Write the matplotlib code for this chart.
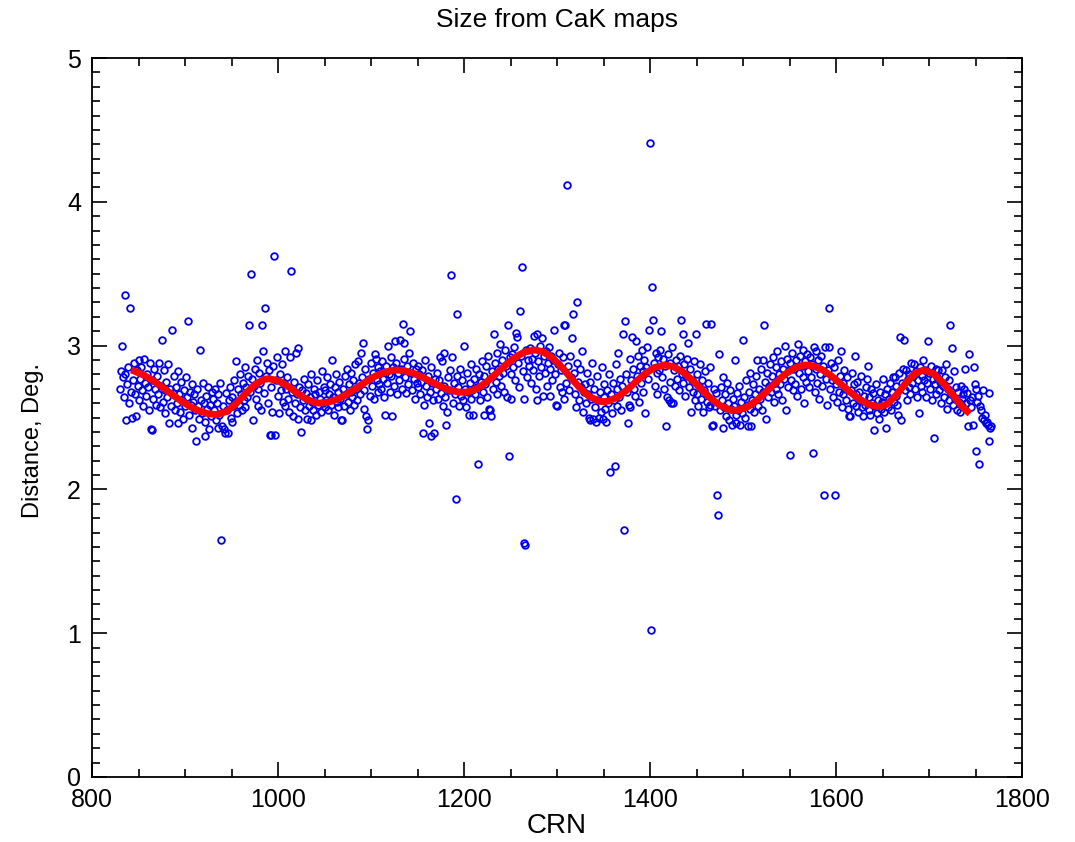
import numpy as np
import matplotlib
matplotlib.use("Agg")
import matplotlib.pyplot as plt
from matplotlib.ticker import MultipleLocator

plt.rcParams["font.family"] = ["Liberation Sans", "DejaVu Sans"]

# Distance values, one per Carrington rotation starting at CRN 830
rows = [
    [2.70, 2.82, 3.00, 2.78, 2.64, 3.35, 2.80, 2.48, 2.73, 2.85, 2.60, 3.26, 2.68, 2.50, 2.76, 2.88, 2.66, 2.51, 2.83, 2.72],  # 830
    [2.90, 2.62, 2.77, 2.85, 2.69, 2.58, 2.91, 2.74, 2.65, 2.80, 2.71, 2.55, 2.88, 2.42, 2.41, 2.76, 2.63, 2.84, 2.70, 2.59],  # 850
    [2.79, 2.66, 2.88, 2.57, 2.72, 3.04, 2.61, 2.83, 2.69, 2.53, 2.75, 2.64, 2.87, 2.46, 2.70, 2.58, 3.11, 2.67, 2.79, 2.55],  # 870
    [2.71, 2.60, 2.82, 2.46, 2.66, 2.54, 2.75, 2.62, 2.49, 2.69, 2.58, 2.78, 2.64, 3.17, 2.52, 2.68, 2.59, 2.73, 2.43, 2.61],  # 890
    [2.66, 2.55, 2.34, 2.70, 2.58, 2.49, 2.97, 2.62, 2.53, 2.74, 2.60, 2.47, 2.37, 2.65, 2.56, 2.71, 2.42, 2.59, 2.51, 2.68],  # 910
    [2.63, 2.55, 2.70, 2.48, 2.60, 2.43, 2.66, 2.52, 2.74, 1.65, 2.44, 2.58, 2.42, 2.39, 2.67, 2.55, 2.39, 2.62, 2.71, 2.50],  # 930
    [2.64, 2.47, 2.58, 2.76, 2.61, 2.89, 2.53, 2.70, 2.59, 2.80, 2.66, 2.55, 2.74, 2.62, 2.85, 2.57, 2.71, 2.64, 2.79, 3.14],  # 950
    [2.68, 3.50, 2.77, 2.48, 2.72, 2.84, 2.63, 2.90, 2.70, 2.58, 2.81, 2.74, 2.55, 3.14, 2.96, 2.67, 3.26, 2.79, 2.88, 2.60],  # 970
    [2.83, 2.38, 2.71, 2.38, 2.54, 2.86, 3.62, 2.38, 2.76, 2.92, 2.65, 2.53, 2.80, 2.69, 2.87, 2.61, 2.74, 2.96, 2.58, 2.70],  # 990
    [2.78, 2.63, 2.54, 2.92, 3.52, 2.68, 2.51, 2.75, 2.60, 2.95, 2.66, 2.49, 2.98, 2.71, 2.57, 2.40, 2.69, 2.62, 2.77, 2.55],  # 1010
    [2.67, 2.49, 2.73, 2.58, 2.64, 2.48, 2.80, 2.61, 2.55, 2.70, 2.66, 2.52, 2.76, 2.59, 2.68, 2.63, 2.54, 2.82, 2.60, 2.71],  # 1030
    [2.57, 2.69, 2.62, 2.78, 2.55, 2.66, 2.73, 2.59, 2.90, 2.64, 2.52, 2.71, 2.80, 2.61, 2.68, 2.57, 2.75, 2.63, 2.48, 2.48],  # 1050
    [2.70, 2.58, 2.79, 2.66, 2.84, 2.61, 2.73, 2.55, 2.68, 2.81, 2.64, 2.76, 2.59, 2.87, 2.70, 2.62, 2.89, 2.74, 2.66, 2.95],  # 1070
    [2.78, 3.02, 2.69, 2.56, 2.84, 2.51, 2.42, 2.48, 2.77, 2.65, 2.88, 2.72, 2.81, 2.63, 2.94, 2.91, 2.76, 2.68, 2.85, 2.73],  # 1090
    [2.82, 2.70, 2.89, 2.77, 2.64, 2.52, 2.86, 2.74, 3.00, 2.80, 2.68, 2.92, 2.79, 2.51, 2.85, 2.72, 3.03, 2.88, 2.66, 2.81],  # 1110
    [2.76, 3.04, 2.84, 2.70, 3.15, 2.91, 3.02, 2.78, 2.67, 2.86, 2.73, 2.95, 3.10, 2.81, 2.69, 2.88, 2.77, 2.63, 2.84, 2.74],  # 1130
    [2.86, 2.71, 2.80, 2.66, 2.75, 2.83, 2.39, 2.59, 2.90, 2.72, 2.64, 2.79, 2.46, 2.68, 2.37, 2.85, 2.74, 2.62, 2.39, 2.77],  # 1150
    [2.70, 2.81, 2.63, 2.76, 2.92, 2.67, 2.89, 2.58, 2.95, 2.72, 2.64, 2.45, 2.54, 2.78, 2.69, 2.83, 3.49, 2.92, 2.60, 2.74],  # 1170
    [2.66, 1.93, 2.79, 3.22, 2.71, 2.58, 2.84, 2.65, 2.76, 2.62, 3.00, 2.70, 2.57, 2.81, 2.68, 2.52, 2.74, 2.63, 2.87, 2.69],  # 1190
    [2.52, 2.77, 2.66, 2.84, 2.71, 2.18, 2.80, 2.62, 2.75, 2.89, 2.68, 2.52, 2.79, 2.73, 2.86, 2.64, 2.93, 2.56, 2.55, 2.51],  # 1210
    [2.82, 2.70, 3.08, 2.88, 2.75, 2.95, 2.66, 2.84, 2.79, 3.01, 2.72, 2.90, 2.81, 2.68, 2.97, 2.86, 2.64, 3.14, 2.23, 2.92],  # 1230
    [2.80, 2.63, 2.94, 2.85, 2.99, 2.76, 3.09, 3.06, 2.88, 2.71, 3.24, 2.93, 3.55, 2.82, 2.63, 1.63, 1.61, 2.97, 2.78, 2.90],  # 1250
    [2.86, 2.98, 2.74, 2.91, 2.83, 3.07, 2.95, 2.70, 2.62, 3.08, 2.89, 2.79, 3.00, 2.85, 3.05, 2.65, 2.93, 2.81, 2.96, 2.72],  # 1270
    [2.88, 2.99, 2.65, 2.84, 2.93, 2.76, 2.90, 3.11, 2.80, 2.59, 2.58, 2.87, 2.95, 2.71, 2.83, 2.68, 2.92, 3.14, 2.63, 3.14],  # 1290
    [2.74, 4.12, 2.86, 2.69, 2.93, 2.78, 3.05, 3.22, 2.81, 2.66, 2.57, 2.88, 3.30, 2.75, 2.62, 2.84, 2.71, 2.96, 2.54, 2.68],  # 1310
    [2.73, 2.60, 2.81, 2.66, 2.50, 2.75, 2.48, 2.63, 2.88, 2.49, 2.70, 2.57, 2.47, 2.79, 2.62, 2.50, 2.68, 2.54, 2.85, 2.49],  # 1330
    [2.64, 2.73, 2.56, 2.47, 2.69, 2.60, 2.80, 2.12, 2.66, 2.53, 2.74, 2.62, 2.16, 2.87, 2.58, 2.70, 2.95, 2.64, 2.77, 2.55],  # 1350
    [2.72, 3.08, 1.72, 3.17, 2.80, 2.68, 2.46, 2.59, 2.57, 2.91, 2.76, 3.06, 2.84, 2.70, 2.65, 3.03, 2.79, 2.93, 2.61, 2.86],  # 1370
    [2.74, 2.97, 2.82, 2.68, 2.90, 2.53, 2.85, 2.99, 2.77, 3.11, 4.41, 1.02, 3.41, 3.18, 2.88, 2.72, 2.95, 2.81, 2.66, 2.92],  # 1390
    [2.83, 2.97, 3.10, 2.78, 2.91, 2.70, 2.86, 2.44, 2.64, 2.94, 2.62, 2.88, 2.75, 2.60, 2.99, 2.60, 2.83, 2.72, 2.90, 2.77],  # 1410
    [2.86, 2.69, 2.93, 3.18, 2.80, 2.74, 3.08, 2.87, 2.65, 2.79, 2.91, 3.02, 2.71, 2.84, 2.54, 2.76, 2.68, 2.89, 2.62, 3.08],  # 1430
    [2.66, 2.80, 2.58, 2.72, 2.87, 2.63, 2.76, 2.54, 2.69, 2.82, 3.15, 2.61, 2.74, 2.57, 2.85, 2.59, 3.15, 2.44, 2.45, 2.70],  # 1450
    [2.58, 2.67, 1.96, 1.82, 2.94, 2.55, 2.71, 2.62, 2.43, 2.78, 2.57, 2.66, 2.51, 2.74, 2.60, 2.48, 2.69, 2.56, 2.45, 2.63],  # 1470
    [2.58, 2.90, 2.52, 2.46, 2.67, 2.55, 2.72, 2.45, 2.61, 2.53, 3.04, 2.64, 2.50, 2.76, 2.59, 2.44, 2.68, 2.56, 2.81, 2.44],  # 1490
    [2.62, 2.73, 2.54, 2.66, 2.79, 2.90, 2.58, 2.70, 2.63, 2.84, 2.55, 2.90, 2.68, 3.14, 2.75, 2.49, 2.81, 2.64, 2.72, 2.87],  # 1510
    [2.68, 2.79, 2.92, 2.61, 2.74, 2.85, 2.70, 2.96, 2.66, 2.80, 2.73, 2.89, 2.62, 2.84, 2.77, 3.00, 2.55, 2.91, 2.71, 2.83],  # 1530
    [2.24, 2.88, 2.76, 2.95, 2.69, 2.84, 2.73, 2.90, 2.65, 3.01, 2.81, 2.93, 2.70, 2.86, 2.78, 2.97, 2.60, 2.89, 2.75, 2.94],  # 1550
    [2.82, 2.71, 2.92, 2.78, 2.87, 2.25, 2.99, 2.68, 2.84, 2.96, 2.74, 2.90, 2.63, 2.80, 2.93, 2.72, 2.86, 1.96, 2.99, 2.77],  # 1570
    [2.59, 2.83, 2.99, 3.26, 2.70, 2.88, 2.76, 2.64, 2.85, 1.96, 2.73, 2.61, 2.90, 2.68, 2.79, 2.96, 2.57, 2.74, 2.66, 2.83],  # 1590
    [2.70, 2.62, 2.78, 2.56, 2.51, 2.51, 2.69, 2.81, 2.60, 2.73, 2.93, 2.58, 2.66, 2.75, 2.54, 2.68, 2.62, 2.79, 2.57, 2.51],  # 1610
    [2.65, 2.59, 2.71, 2.77, 2.86, 2.55, 2.64, 2.52, 2.70, 2.60, 2.67, 2.41, 2.58, 2.73, 2.53, 2.62, 2.49, 2.68, 2.56, 2.61],  # 1630
    [2.77, 2.60, 2.54, 2.66, 2.43, 2.70, 2.57, 2.63, 2.74, 2.55, 2.68, 2.78, 2.61, 2.78, 2.65, 2.72, 2.59, 2.52, 2.81, 3.06],  # 1650
    [2.48, 2.74, 2.84, 3.04, 2.69, 2.83, 2.62, 2.77, 2.71, 2.80, 2.66, 2.88, 2.74, 2.79, 2.87, 2.70, 2.82, 2.64, 2.76, 2.53],  # 1670
    [2.85, 2.72, 2.79, 2.68, 2.90, 2.76, 2.83, 2.64, 2.74, 3.03, 2.81, 2.70, 2.86, 2.62, 2.77, 2.36, 2.73, 2.84, 2.66, 2.78],  # 1690
    [2.83, 2.69, 2.75, 2.60, 2.83, 2.72, 2.64, 2.78, 2.87, 2.56, 2.70, 2.62, 2.76, 3.14, 2.66, 2.98, 2.59, 2.82, 2.63, 2.71],  # 1710
    [2.55, 2.68, 2.61, 2.54, 2.72, 2.63, 2.58, 2.66, 2.70, 2.84, 2.60, 2.67, 2.44, 2.94, 2.62, 2.57, 2.64, 2.45, 2.85, 2.73],  # 1730
    [2.70, 2.27, 2.61, 2.65, 2.18, 2.58, 2.55, 2.50, 2.69, 2.48, 2.52, 2.46, 2.47, 2.45, 2.67, 2.34, 2.43, 2.44],              # 1750
]
distance = np.concatenate([np.array(r) for r in rows])
crn = np.arange(830, 830 + len(distance))

# smooth fit curve (red)
fit_crn = [842, 845, 855, 865, 875, 885, 895, 905, 915, 925, 934, 945, 955, 965, 975, 985, 990,
           1000, 1010, 1020, 1030, 1040, 1045, 1055, 1065, 1075, 1085, 1095, 1105, 1115, 1125, 1128,
           1135, 1145, 1155, 1165, 1175, 1185, 1195, 1199, 1205, 1215, 1225, 1235, 1245, 1255, 1265, 1276,
           1285, 1295, 1305, 1315, 1325, 1335, 1345, 1350, 1355, 1365, 1375, 1385, 1395, 1405, 1416,
           1425, 1435, 1445, 1455, 1465, 1475, 1485, 1491, 1495, 1505, 1515, 1525, 1535, 1545, 1555, 1565, 1568,
           1575, 1585, 1595, 1605, 1615, 1625, 1635, 1645, 1647, 1655, 1665, 1675, 1685, 1694,
           1705, 1715, 1725, 1735, 1744]
fit_val = [2.83, 2.824, 2.797, 2.759, 2.714, 2.665, 2.619, 2.578, 2.546, 2.526, 2.52, 2.543, 2.597, 2.666, 2.728, 2.765, 2.77,
           2.756, 2.720, 2.673, 2.629, 2.603, 2.60, 2.608, 2.631, 2.667, 2.708, 2.751, 2.789, 2.816, 2.829, 2.83,
           2.826, 2.809, 2.781, 2.747, 2.715, 2.689, 2.676, 2.675, 2.679, 2.705, 2.750, 2.808, 2.867, 2.919, 2.955, 2.97,
           2.957, 2.915, 2.850, 2.775, 2.702, 2.645, 2.614, 2.61, 2.614, 2.641, 2.690, 2.750, 2.806, 2.848, 2.865,
           2.854, 2.818, 2.762, 2.698, 2.635, 2.584, 2.555, 2.55, 2.552, 2.575, 2.620, 2.679, 2.743, 2.800, 2.843, 2.864, 2.865,
           2.859, 2.833, 2.789, 2.734, 2.677, 2.627, 2.591, 2.575, 2.575, 2.593, 2.657, 2.740, 2.808, 2.83,
           2.804, 2.742, 2.661, 2.580, 2.526]

fig = plt.figure(figsize=(10.75, 8.42), dpi=100)
ax = fig.add_axes([92 / 1075, 65 / 842, 930 / 1075, 719 / 842])

ax.plot(crn, distance, linestyle="none", marker="o", markersize=4.8,
        markerfacecolor="none", markeredgecolor="#0000ee", markeredgewidth=1.3)
ax.plot(fit_crn, fit_val, color="#ff0000", linewidth=5, solid_capstyle="butt")

ax.set_xlim(800, 1800)
ax.set_ylim(0, 5)
ax.xaxis.set_major_locator(MultipleLocator(200))
ax.xaxis.set_minor_locator(MultipleLocator(50))
ax.yaxis.set_major_locator(MultipleLocator(1))
ax.yaxis.set_minor_locator(MultipleLocator(0.1))
ax.tick_params(which="both", direction="in", top=True, right=True, labelsize=18, width=1.2)
ax.tick_params(which="major", length=11, pad=8)
ax.tick_params(which="minor", length=6)
for s in ax.spines.values():
    s.set_linewidth(1.3)

fig.text(557 / 1075, 1 - 20 / 842, "Size from CaK maps", ha="center", va="center", fontsize=19)
fig.text(557 / 1075, 1 - 826 / 842, "CRN", ha="center", va="center", fontsize=20)
fig.text(33 / 1075, 1 - 440 / 842, "Distance, Deg.", ha="center", va="center", rotation=90, fontsize=17)

fig.savefig("out.png", dpi=100)
